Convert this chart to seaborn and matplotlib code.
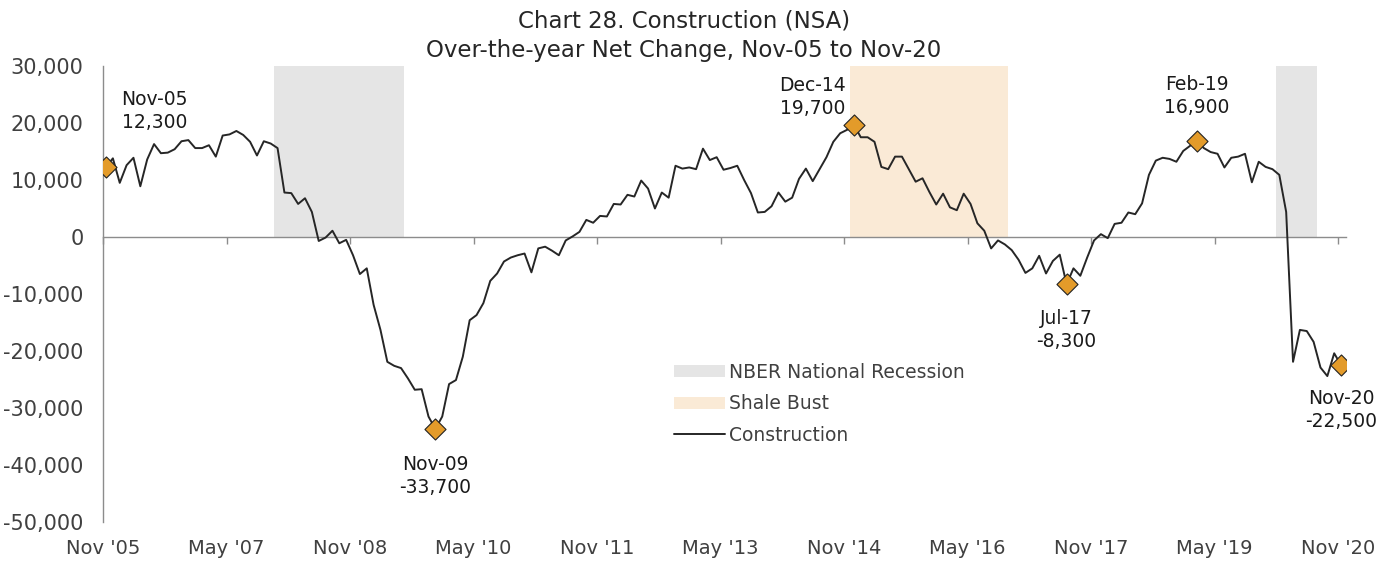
import numpy as np
import pandas as pd
import matplotlib
matplotlib.use("Agg")
import matplotlib.pyplot as plt
import seaborn as sns
from matplotlib.patches import Patch
from matplotlib.lines import Line2D

# ---------------- data ----------------
months = pd.date_range("2005-11-01", "2020-11-01", freq="MS").strftime("%b-%y").tolist()

construction = [
    12300, 13800, 9500, 12600, 13900, 8900, 13600, 16300, 14700, 14800, 15400, 16800,
    17000, 15600, 15600, 16100, 14100, 17800, 18000, 18600, 17900, 16700, 14300, 16800,
    16400, 15600, 7800, 7700, 5800, 6800, 4400, -700, -100, 1100, -1100, -500,
    -3200, -6500, -5500, -11900, -16300, -21900, -22600, -23000, -24800, -26800, -26700, -31500,
    -33700, -31500, -25800, -25100, -21000, -14600, -13700, -11600, -7700, -6400, -4300, -3600,
    -3200, -2900, -6200, -2000, -1700, -2400, -3200, -600, 100, 900, 3000, 2500,
    3700, 3600, 5800, 5700, 7400, 7100, 9900, 8500, 5000, 7800, 6900, 12500,
    12000, 12200, 11900, 15500, 13500, 14000, 11800, 12100, 12500, 10000, 7700, 4300,
    4400, 5400, 7800, 6200, 6900, 10200, 12000, 9800, 11900, 14000, 16700, 18200,
    18800, 19700, 17500, 17500, 16700, 12300, 11900, 14100, 14100, 11900, 9700, 10300,
    7900, 5700, 7600, 5200, 4700, 7600, 5800, 2400, 1100, -2000, -600, -1300,
    -2300, -4000, -6300, -5500, -3300, -6400, -4200, -3100, -8300, -5500, -6800, -3600,
    -600, 500, -200, 2300, 2500, 4300, 4000, 5900, 10900, 13400, 13900, 13700,
    13200, 15100, 16000, 16900, 15600, 14900, 14600, 12200, 13900, 14100, 14600, 9600,
    13200, 12300, 11900, 10900, 4400, -21900, -16300, -16500, -18400, -22900, -24400, -20400,
    -22500,
]

tick_labels = ["Nov '05", "May '07", "Nov '08", "May '10", "Nov '11", "May '13",
               "Nov '14", "May '16", "Nov '17", "May '19", "Nov '20"]
y_ticks = [30000, 20000, 10000, 0, -10000, -20000, -30000, -40000, -50000]

highlight = ["Nov-05", "Nov-09", "Dec-14", "Jul-17", "Feb-19", "Nov-20"]
nber_periods = [("Dec-07", "Jun-09"), ("Feb-20", "Jul-20")]
shale_periods = [("Dec-14", "Oct-16")]
band_top = 30000

legend_labels = ["NBER National Recession", "Shale Bust", "Construction"]

# ---------------- style ----------------
sns.set_theme(style="white")
plt.rcParams["font.family"] = ["DejaVu Sans"]

LINE = "#262626"
GRAY_BAND = "#E5E5E5"
SHALE_BAND = "#FAEAD6"
ORANGE = "#E39B2A"
AXIS = "#8C8C8C"
TXT = "#404040"

df = pd.DataFrame({"month": months, "pos": np.arange(len(months)), "change": construction})

fig = plt.figure(figsize=(13.95, 5.64), dpi=100)
ax = fig.add_axes([103 / 1395, 42 / 564, (1346 - 103) / 1395, (522 - 66) / 564])

def shade(periods, color):
    for s, e in periods:
        i0, i1 = months.index(s), months.index(e)
        ax.fill_between([i0 - 0.5, i1 + 0.5], 0, band_top, color=color, lw=0, zorder=0)

shade(nber_periods, GRAY_BAND)
shade(shale_periods, SHALE_BAND)

sns.lineplot(data=df, x="pos", y="change", color=LINE, lw=1.4, ax=ax, zorder=3)
hl = df[df["month"].isin(highlight)]
sns.scatterplot(data=hl, x="pos", y="change", marker="D", s=115, color=ORANGE,
                edgecolor="#222222", linewidth=0.8, zorder=4, ax=ax, legend=False)

offsets = {"Nov-05": (35, 40), "Nov-09": (0, -34), "Dec-14": (-30, 20),
           "Jul-17": (0, -33), "Feb-19": (0, 32), "Nov-20": (0, -32)}
for _, r in hl.iterrows():
    ax.annotate(f"{r['month']}\n{r['change']:,.0f}", (r["pos"], r["change"]),
                xytext=offsets[r["month"]], textcoords="offset points",
                ha="center", va="center", fontsize=13.5, color="#1a1a1a",
                linespacing=1.25, zorder=5)

ax.set_xlim(-0.44, 180.72)
ax.set_ylim(-50000, 30000)
ax.set_xlabel("")
ax.set_ylabel("")

# y axis
ax.set_yticks(y_ticks)
ax.set_yticklabels([f"{v:,}" for v in y_ticks])
ax.tick_params(axis="y", length=0, pad=14, labelsize=15, labelcolor=TXT)

# x axis line at zero with tick marks
xt = [18 * k - 0.44 for k in range(len(tick_labels))]
ax.spines["bottom"].set_position(("data", 0))
for s in ["top", "right"]:
    ax.spines[s].set_visible(False)
ax.spines["bottom"].set_color(AXIS)
ax.spines["left"].set_color(AXIS)
ax.spines["bottom"].set_linewidth(1.0)
ax.spines["left"].set_linewidth(1.0)
ax.set_xticks(xt)
ax.tick_params(axis="x", direction="out", length=5, width=1.0, color=AXIS, labelbottom=False, bottom=True)

sec = ax.secondary_xaxis("bottom")
sec.set_xticks(xt)
sec.set_xticklabels(tick_labels)
sec.spines["bottom"].set_visible(False)
sec.tick_params(axis="x", length=0, pad=12, labelsize=14, labelcolor=TXT)

# legend
handles = [Patch(facecolor=GRAY_BAND, edgecolor="none"),
           Patch(facecolor=SHALE_BAND, edgecolor="none"),
           Line2D([], [], color=LINE, lw=1.4)]
fig.legend(handles, legend_labels, loc="upper left",
           bbox_to_anchor=(674 / 1395, 1 - 363 / 564), frameon=False,
           fontsize=13.5, handlelength=2.7, handleheight=0.6, handletextpad=0.25,
           labelspacing=0.66, borderpad=0, borderaxespad=0, labelcolor=TXT)

# title
fig.text(684 / 1395, 1 - 21 / 564, "Chart 28. Construction (NSA)", ha="center", va="center",
         fontsize=16.5, color="#262626")
fig.text(684 / 1395, 1 - 51 / 564, "Over-the-year Net Change, Nov-05 to Nov-20", ha="center",
         va="center", fontsize=16.5, color="#262626")

fig.savefig("out.png", dpi=100)
